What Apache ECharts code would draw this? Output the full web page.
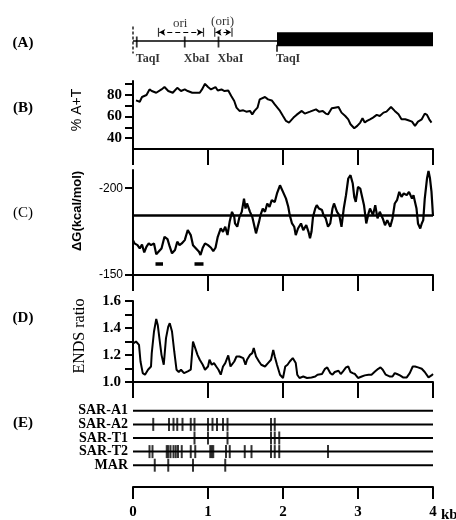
<!DOCTYPE html>
<html>
<head>
<meta charset="utf-8">
<script src="https://cdn.jsdelivr.net/npm/echarts@6/dist/echarts.min.js"></script>
<style>
  html, body { margin: 0; background: #fff; }
  #main { width: 456px; height: 520px; }
</style>
</head>
<body>
<div id="main"></div>
<script>
// (A) map: restriction sites, coding block and ori regions, in kb
const siteNames = ['TaqI', 'XbaI', 'XbaI', 'TaqI'];
const siteKb = [0.05, 0.69, 1.14, 1.92];
const codingKb = [1.92, 4.0];
const oriKb = [0.34, 0.94];
const oriPutKb = [1.09, 1.32];

// (B) % A+T
const atKb = [0.04,0.09,0.12,0.18,0.22,0.25,0.31,0.38,0.42,0.47,0.53,0.59,0.64,0.69,0.73,0.79,0.84,0.89,0.92,0.96,
  1.0,1.04,1.10,1.13,1.18,1.22,1.27,1.31,1.35,1.38,1.42,1.47,1.51,1.56,1.59,1.62,1.66,1.69,1.71,1.76,
  1.80,1.85,1.89,1.96,2.0,2.04,2.08,2.14,2.18,2.25,2.29,2.36,2.44,2.48,2.53,2.57,2.60,2.65,2.69,2.74,
  2.78,2.83,2.87,2.90,2.95,2.99,3.03,3.06,3.09,3.12,3.16,3.20,3.25,3.29,3.34,3.38,3.44,3.49,3.54,3.58,
  3.63,3.67,3.72,3.76,3.80,3.85,3.89,3.92,3.95,3.98];
const atPct = [75.0,73.8,78.2,80,85.2,83.7,82.1,85.2,87.4,83.7,82.1,86.7,83.7,85.2,83.7,82.1,82.1,82.1,85.2,90.4,
  87.4,85.2,87.4,84.2,85.2,83.7,84.2,79.1,74.5,68.3,65.3,65.8,64.6,65.3,62.1,65.3,68.3,76,77.5,78.2,
  76,75,71.3,65.3,60.6,56,54.5,59.1,61.6,65.3,62.8,64.6,66.7,64.6,65.3,62.8,62.1,67.7,68.3,68.9,
  63.7,60.6,57.5,52.9,49.2,51.4,54.5,58.4,54.5,56,57.5,59.1,61.6,60.6,63.7,64.6,68.9,65.3,62.1,57.5,
  57.5,56.6,55.4,51.4,55.4,57.5,62.8,61.6,57.5,54.5];

// (C) stress-induced destabilization, kcal/mol
const dgKb = [0.0,0.02,0.06,0.09,0.12,0.15,0.18,0.21,0.24,0.28,0.31,0.34,0.38,0.42,0.46,0.49,0.52,0.56,0.59,0.62,
  0.65,0.69,0.73,0.77,0.80,0.84,0.88,0.90,0.93,0.96,1.0,1.04,1.07,1.10,1.13,1.17,1.20,1.23,1.26,1.29,
  1.32,1.35,1.36,1.39,1.42,1.45,1.48,1.50,1.52,1.56,1.59,1.61,1.64,1.68,1.70,1.73,1.76,1.79,1.82,1.85,
  1.89,1.92,1.96,
  2.0,2.04,2.07,2.09,2.12,2.15,2.17,2.20,2.24,2.27,2.31,2.34,2.36,2.38,2.40,2.43,2.45,2.48,2.52,2.54,
  2.57,2.60,2.63,2.66,2.68,2.72,2.75,2.78,2.81,2.84,2.87,2.90,2.93,2.95,2.97,3.0,3.03,3.05,3.08,3.11,
  3.14,3.16,3.20,3.23,3.26,3.29,3.33,3.36,3.39,3.43,3.46,3.49,3.52,3.55,3.58,3.61,3.65,3.68,3.72,3.74,
  3.76,3.78,3.80,3.83,3.85,3.87,3.89,3.92,3.94,3.96,3.98,4.0];
const dgVal = [-170.1,-168.2,-167.2,-165.3,-167.6,-163,-166.3,-168.2,-167.2,-168.2,-161.9,-163.4,-165.3,-172,-170.7,-166.3,-162.5,-164.4,-169.2,-167.2,
  -168.2,-170.1,-175.9,-173,-167.2,-165.3,-163.4,-161.5,-165.7,-168.2,-167.2,-165.7,-163.8,-165.7,-172,-176.8,-174.9,-177.8,-173,-181,
  -186.4,-183.5,-179.7,-177.8,-183.5,-186.4,-194,-188.3,-191.2,-186.4,-183.5,-182.6,-174,-180.6,-184.5,-188.3,-186.4,-191.2,-189.3,-193.1,
  -192.1,-197,-201.7,
  -197.9,-194,-189.3,-184.5,-179.7,-177.8,-173,-176.8,-179.7,-175.9,-178.7,-174.9,-171.1,-174.9,-183.5,-188.3,-190.2,-188.3,-187.4,-184.5,
  -182.6,-177.8,-179.7,-188.3,-191.2,-186.4,-184.5,-177.8,-188.3,-196,-205.6,-207.5,-202.7,-195,-192.1,-200.7,-199.8,-196,-190.2,-179.7,
  -185.5,-188.3,-184.5,-190.2,-182.6,-186.4,-182.6,-178.7,-181.6,-177.8,-182.6,-191.2,-193.1,-197.9,-195,-197,-196,-197.9,-194,-196,
  -192.1,-188.3,-179.7,-176.8,-179.7,-181.6,-194,-205.6,-210,-205.6,-197.9,-184];
const dgThreshold = -184.5;
const dgMarkKb = [[0.30, 0.40], [0.82, 0.94]];
const dgMarkLevel = -156.3;

// (D) ENDS ratio
const endsKb = [0.01,0.04,0.08,0.10,0.13,0.16,0.20,0.24,0.25,0.28,0.31,0.33,0.36,0.38,0.41,0.44,0.47,0.49,0.52,0.55,
  0.58,0.61,0.64,0.68,0.73,0.77,0.80,0.82,0.86,0.89,0.93,0.96,1.0,1.02,1.05,1.08,1.11,1.14,1.17,1.20,
  1.23,1.27,1.30,1.35,1.38,1.42,1.47,1.50,1.52,1.56,1.59,1.61,1.64,1.68,1.71,1.76,1.80,1.84,1.87,1.89,
  1.92,1.96,2.0,2.03,2.06,2.09,2.13,2.15,2.17,2.19,2.22,2.27,2.32,2.38,2.43,2.46,2.52,2.56,2.59,2.63,
  2.66,2.69,2.74,2.77,2.80,2.84,2.87,2.90,2.93,2.96,3.0,3.05,3.09,3.14,3.18,3.23,3.27,3.30,3.33,3.37,
  3.42,3.46,3.49,3.52,3.56,3.60,3.65,3.69,3.73,3.76,3.80,3.85,3.89,3.94,3.98,4.0];
const endsRatio = [1.288,1.30,1.275,1.152,1.066,1.054,1.091,1.115,1.214,1.374,1.467,1.423,1.288,1.201,1.128,1.325,1.41,1.435,1.374,1.226,
  1.091,1.074,1.091,1.066,1.079,1.091,1.30,1.312,1.201,1.165,1.128,1.091,1.115,1.165,1.128,1.14,1.115,1.091,1.054,1.115,
  1.14,1.197,1.115,1.152,1.189,1.189,1.177,1.128,1.165,1.201,1.214,1.251,1.189,1.152,1.128,1.115,1.14,1.165,1.238,1.189,
  1.128,1.054,1.03,1.115,1.128,1.152,1.177,1.182,1.14,1.054,1.03,1.041,1.03,1.034,1.041,1.054,1.059,1.098,1.108,1.066,
  1.054,1.074,1.083,1.059,1.079,1.108,1.115,1.074,1.066,1.059,1.03,1.041,1.049,1.054,1.054,1.079,1.098,1.108,1.091,1.054,
  1.041,1.041,1.066,1.059,1.049,1.034,1.034,1.066,1.115,1.115,1.108,1.098,1.074,1.034,1.049,1.059];

// (E) predicted SAR / MAR motifs, kb
const sarRows = ['SAR-A1', 'SAR-A2', 'SAR-T1', 'SAR-T2', 'MAR'];
const sarA1 = [];
const sarA2 = [0.27,0.48,0.54,0.59,0.66,0.77,0.82,1.0,1.06,1.12,1.20,1.26,1.84,1.89];
const sarT1 = [0.82,1.0,1.26,1.84,1.89,1.95];
const sarT2 = [0.22,0.26,0.45,0.47,0.50,0.54,0.57,0.60,0.65,0.77,0.83,1.03,1.05,1.07,1.24,1.29,1.49,1.58,1.84,1.89,1.95,2.60];
const marSites = [0.29,0.47,0.80,1.23];
const sarSites = [sarA1, sarA2, sarT1, sarT2, marSites];

const zip = (xs, ys) => xs.map((x, i) => [x, ys[i]]);
const serif = 'Liberation Serif';
const sans = 'Liberation Sans';
const black = '#000';

const chart = echarts.init(document.getElementById('main'));

function panelX(i) {
  return {
    type: 'value', gridIndex: i, min: 0, max: 4, interval: 1,
    axisLine: { show: true, onZero: false, lineStyle: { color: black, width: 2 } },
    axisTick: { show: true, length: 16, lineStyle: { color: black, width: 2 } },
    axisLabel: { show: false }, splitLine: { show: false }
  };
}
function panelY(i, extra) {
  return Object.assign({
    type: 'value', gridIndex: i,
    axisLine: { show: true, onZero: false, lineStyle: { color: black, width: 2 } },
    splitLine: { show: false }
  }, extra);
}

const series = [];
// A
const onA = { xAxisIndex: 0, yAxisIndex: 0, silent: true };
series.push(Object.assign({ type: 'line', data: [[0, 31], [4, 31]], symbol: 'none',
  lineStyle: { color: black, width: 1.5 } }, onA));
series.push(Object.assign({ type: 'line', data: [[codingKb[0], 29.2], [codingKb[1], 29.2]], symbol: 'none',
  lineStyle: { color: black, width: 14, cap: 'butt' } }, onA));
series.push(Object.assign({ type: 'line', data: [[0, 16.5], [0, 43.5]], symbol: 'none', clip: false,
  lineStyle: { color: black, width: 1.3, type: [3, 2] } }, onA));
series.push(Object.assign({ type: 'scatter', symbol: 'rect', itemStyle: { color: black },
  data: siteKb.map((x, i) => ({ value: [x, i < 3 ? 32 : 38.3], symbolSize: [1.8, i < 3 ? 11 : 7] })) }, onA));
series.push(Object.assign({ type: 'scatter', symbolSize: 0,
  data: siteKb.map((x, i) => ({ value: [x, 48.5], name: siteNames[i] })),
  label: { show: true, position: 'inside', align: 'left', verticalAlign: 'middle', offset: [-1, 0],
    formatter: p => p.name, color: black, fontFamily: serif, fontWeight: 'bold', fontSize: 12 } }, onA));
[oriKb, oriPutKb].forEach(r => {
  series.push(Object.assign({ type: 'scatter', symbol: 'rect', symbolSize: [1.2, 9], itemStyle: { color: black },
    data: [[r[0], 22.3], [r[1], 22.3]],
    markLine: { silent: true, symbol: ['arrow', 'arrow'], symbolSize: [5, 6], label: { show: false },
      lineStyle: { color: black, width: 1, type: [5, 3] },
      data: [[{ coord: [r[0] + 0.01, 22.3] }, { coord: [r[1] - 0.01, 22.3] }]] } }, onA));
});
series.push(Object.assign({ type: 'scatter', symbolSize: 0,
  data: [{ value: [(oriKb[0] + oriKb[1]) / 2 - 0.01, 13.3], name: 'ori' },
         { value: [(oriPutKb[0] + oriPutKb[1]) / 2 - 0.01, 11.7], name: '(ori)' }],
  label: { show: true, position: 'inside', formatter: p => p.name, color: black,
    fontFamily: serif, fontSize: 13 } }, onA));

// B
series.push({ type: 'line', xAxisIndex: 1, yAxisIndex: 1, data: zip(atKb, atPct), symbol: 'none',
  lineStyle: { color: black, width: 2 } });
// C
series.push({ type: 'line', xAxisIndex: 2, yAxisIndex: 2, data: zip(dgKb, dgVal), symbol: 'none',
  lineStyle: { color: black, width: 2.2 },
  markLine: { silent: true, symbol: 'none', label: { show: false },
    lineStyle: { color: black, width: 2.5, type: 'solid' }, data: [{ yAxis: dgThreshold }] } });
dgMarkKb.forEach(r => {
  series.push({ type: 'line', xAxisIndex: 2, yAxisIndex: 2, data: [[r[0], dgMarkLevel], [r[1], dgMarkLevel]],
    symbol: 'none', lineStyle: { color: black, width: 3.5 } });
});
// D
series.push({ type: 'line', xAxisIndex: 3, yAxisIndex: 3, data: zip(endsKb, endsRatio), symbol: 'none',
  lineStyle: { color: black, width: 2 } });
// E
sarRows.forEach((name, k) => {
  series.push({ type: 'line', xAxisIndex: 4, yAxisIndex: 4, data: [[0, name], [4, name]], symbol: 'none',
    lineStyle: { color: black, width: 2 } });
  series.push({ type: 'scatter', xAxisIndex: 4, yAxisIndex: 4, symbol: 'rect', symbolSize: [2, 13],
    itemStyle: { color: black }, data: sarSites[k].map(x => [x, name]) });
});

const panelLabel = (t, y, w) => ({ type: 'text', x: 23, y: y,
  style: { text: t, fill: black, font: (w || 'bold') + ' 15px "' + serif + '"', align: 'center', verticalAlign: 'middle' } });
const axisName = (t, x, y, font) => ({ type: 'text', x: x, y: y, rotation: Math.PI / 2,
  style: { text: t, fill: black, font: font, align: 'center', verticalAlign: 'middle' } });

chart.setOption({
  animation: false,
  backgroundColor: '#fff',
  grid: [
    { left: 133, top: 10, width: 300, height: 50 },
    { left: 133, top: 81, width: 300, height: 68 },
    { left: 133, top: 170, width: 300, height: 105 },
    { left: 133, top: 301, width: 300, height: 81 },
    { left: 133, top: 404, width: 300, height: 72 }
  ],
  xAxis: [
    { type: 'value', gridIndex: 0, min: 0, max: 4, show: false },
    panelX(1), panelX(2), panelX(3),
    {
      type: 'value', gridIndex: 4, min: 0, max: 4, interval: 1, offset: 15,
      axisLine: { show: true, onZero: false, lineStyle: { color: black, width: 2 } },
      axisTick: { show: true, length: 12, lineStyle: { color: black, width: 2 } },
      axisLabel: { margin: 18, color: black, fontFamily: serif, fontWeight: 'bold', fontSize: 15 },
      splitLine: { show: false }
    }
  ],
  yAxis: [
    { type: 'value', gridIndex: 0, min: 0, max: 50, inverse: true, show: false },
    panelY(1, { min: 30, max: 93,
      axisTick: { show: true, length: 8, customValues: [40, 50, 60, 70, 80, 90], lineStyle: { color: black, width: 2 } },
      axisLabel: { customValues: [40, 60, 80], margin: 11, color: black, fontFamily: serif, fontWeight: 'bold', fontSize: 15 } }),
    panelY(2, { min: -210.5, max: -150, inverse: true,
      axisTick: { show: true, length: 8, customValues: [-200, -150], lineStyle: { color: black, width: 2 } },
      axisLabel: { customValues: [-200, -150], margin: 10, color: black, fontFamily: sans, fontSize: 12 } }),
    panelY(3, { min: 1.0, max: 1.6,
      axisTick: { show: true, length: 8, customValues: [1.0, 1.1, 1.2, 1.3, 1.4, 1.5, 1.6], lineStyle: { color: black, width: 2 } },
      axisLabel: { customValues: [1.0, 1.2, 1.4, 1.6], formatter: v => v.toFixed(1), margin: 12,
        color: black, fontFamily: serif, fontWeight: 'bold', fontSize: 15 } }),
    {
      type: 'category', gridIndex: 4, data: sarRows.slice().reverse(),
      axisLine: { show: false }, axisTick: { show: false },
      axisLabel: { interval: 0, margin: 5, color: black, fontFamily: serif, fontWeight: 'bold', fontSize: 14, lineHeight: 14 }
    }
  ],
  graphic: [
    panelLabel('(A)', 43), panelLabel('(B)', 108), panelLabel('(C)', 213, 'normal'),
    panelLabel('(D)', 318), panelLabel('(E)', 423),
    axisName('% A+T', 77, 110, '14px "' + sans + '"'),
    axisName('\u0394G(kcal/mol)', 77, 211, 'bold 13px "' + sans + '"'),
    axisName('ENDS ratio', 80, 336, '16px "' + serif + '"'),
    { type: 'text', x: 441, y: 515, style: { text: 'kb', fill: black, font: 'bold 15px "' + serif + '"', verticalAlign: 'middle' } }
  ],
  series: series
});
</script>
</body>
</html>
